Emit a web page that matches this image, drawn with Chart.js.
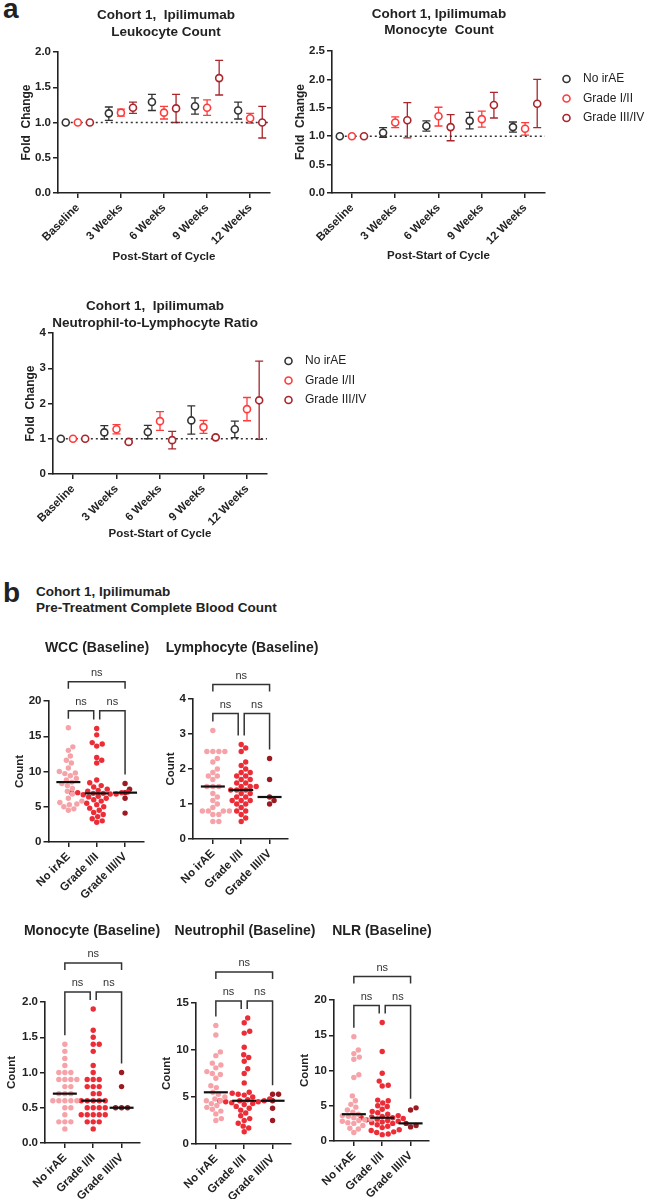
<!DOCTYPE html>
<html>
<head>
<meta charset="utf-8">
<script src="https://cdn.jsdelivr.net/npm/chart.js@4.4.1/dist/chart.umd.min.js"></script>
<style>
  body { margin: 0; background: #fff; width: 645px; height: 1199px; position: relative; overflow: hidden;
         font-family: "Liberation Sans", Arial, Helvetica, sans-serif; color: #222; }
  canvas { position: absolute; }
  .lbl { position: absolute; font-weight: bold; line-height: 1; white-space: nowrap; }
</style>
</head>
<body>
<div class="lbl" style="left:3px;top:-5px;font-size:28px">a</div>
<div class="lbl" style="left:3px;top:579px;font-size:28px">b</div>
<div class="lbl" style="left:36px;top:584px;font-size:13.5px;line-height:16px">Cohort 1, Ipilimumab<br>Pre-Treatment Complete Blood Count</div>

<canvas id="leuk"></canvas>
<canvas id="mono"></canvas>
<canvas id="nlr"></canvas>
<canvas id="wcc"></canvas>
<canvas id="lym"></canvas>
<canvas id="monBl"></canvas>
<canvas id="neuBl"></canvas>
<canvas id="nlrBl"></canvas>

<script>
// ---- panel a: fold change over time ----
const weeks = ['Baseline', '3 Weeks', '6 Weeks', '9 Weeks', '12 Weeks'];
const grades = ['No irAE', 'Grade I/II', 'Grade III/IV'];
const foldRef = 1;

// one row per grade: mean, lower and upper end of error bar
const leukMean = [[1, 1.13, 1.29, 1.23, 1.17], [1, 1.14, 1.14, 1.21, 1.06], [1, 1.21, 1.20, 1.63, 1.00]];
const leukLow  = [[1, 1.03, 1.17, 1.12, 1.05], [1, 1.09, 1.05, 1.10, 0.99], [1, 1.13, 1.00, 1.39, 0.78]];
const leukHigh = [[1, 1.22, 1.40, 1.35, 1.29], [1, 1.19, 1.23, 1.32, 1.13], [1, 1.29, 1.40, 1.88, 1.23]];

const monoMean = [[1, 1.06, 1.18, 1.27, 1.16], [1, 1.24, 1.35, 1.30, 1.13], [1, 1.28, 1.16, 1.55, 1.57]];
const monoLow  = [[1, 0.98, 1.09, 1.13, 1.07], [1, 1.15, 1.18, 1.16, 1.02], [1, 0.97, 0.92, 1.32, 1.15]];
const monoHigh = [[1, 1.15, 1.27, 1.42, 1.25], [1, 1.34, 1.51, 1.44, 1.24], [1, 1.59, 1.38, 1.77, 2.00]];

const nlrMean = [[1, 1.18, 1.19, 1.52, 1.27], [1, 1.27, 1.50, 1.33, 1.84], [1, 0.91, 0.96, 1.04, 2.09]];
const nlrLow  = [[1, 0.99, 1.00, 1.13, 1.03], [1, 1.14, 1.24, 1.15, 1.51], [1, 0.89, 0.71, 1.01, 0.98]];
const nlrHigh = [[1, 1.37, 1.38, 1.93, 1.50], [1, 1.40, 1.77, 1.52, 2.17], [1, 0.93, 1.21, 1.07, 3.20]];

// ---- panel b: baseline counts per patient ----
const wccNo  = [16.2, 13.5, 13.0, 12.2, 11.6, 11.2, 10.5, 10.0, 9.8, 9.7, 9.4, 9.0, 8.8, 8.5, 8.3, 8.0, 7.6, 7.2, 6.8, 6.2, 5.8, 5.6, 5.4, 5.3, 5.0, 4.7, 4.5];
const wccG12 = [16.1, 15.2, 14.1, 13.9, 13.6, 12.0, 11.6, 11.2, 8.8, 8.4, 8.0, 7.8, 7.5, 7.3, 7.2, 7.1, 7.0, 7.0, 7.0, 6.9, 6.9, 6.8, 6.8, 6.7, 6.5, 6.4, 6.2, 6.0, 5.8, 5.5, 5.3, 5.0, 4.8, 4.5, 4.2, 3.9, 3.6, 3.3, 3.0, 2.8];
const wccG34 = [8.3, 7.5, 7.0, 6.2, 4.1];

const lymNo  = [3.1, 2.5, 2.5, 2.5, 2.5, 2.3, 2.2, 2.0, 1.9, 1.8, 1.8, 1.7, 1.5, 1.5, 1.5, 1.3, 1.2, 1.1, 1.0, 0.9, 0.8, 0.8, 0.8, 0.8, 0.7, 0.7, 0.5, 0.5];
const lymG12 = [2.7, 2.6, 2.5, 2.2, 2.1, 2.0, 1.9, 1.9, 1.8, 1.8, 1.7, 1.7, 1.6, 1.6, 1.5, 1.5, 1.5, 1.4, 1.4, 1.4, 1.3, 1.3, 1.2, 1.2, 1.1, 1.1, 1.1, 1.0, 1.0, 0.9, 0.8, 0.8, 0.7, 0.6, 0.5];
const lymG34 = [2.3, 1.7, 1.2, 1.1, 1.0];

const monNo  = [1.4, 1.3, 1.2, 1.1, 1.0, 1.0, 1.0, 0.9, 0.9, 0.9, 0.9, 0.8, 0.8, 0.7, 0.7, 0.7, 0.6, 0.6, 0.6, 0.6, 0.6, 0.5, 0.5, 0.4, 0.3, 0.3, 0.3, 0.2];
const monG12 = [1.9, 1.6, 1.5, 1.4, 1.4, 1.3, 1.1, 1.0, 0.9, 0.9, 0.9, 0.8, 0.8, 0.8, 0.7, 0.7, 0.6, 0.6, 0.6, 0.6, 0.6, 0.5, 0.5, 0.5, 0.5, 0.4, 0.4, 0.4, 0.4, 0.4, 0.3, 0.3, 0.3, 0.2];
const monG34 = [1.0, 0.8, 0.5, 0.5, 0.5];

const neuNo  = [12.6, 11.6, 9.8, 9.4, 8.6, 8.4, 8.1, 7.7, 7.5, 7.4, 7.0, 6.2, 6.0, 5.5, 5.3, 5.0, 4.8, 4.6, 4.6, 4.3, 4.1, 3.9, 3.7, 3.5, 3.2, 2.7, 2.5];
const neuG12 = [13.4, 12.9, 12.0, 11.8, 10.3, 9.5, 9.2, 8.8, 8.0, 7.5, 6.5, 5.5, 5.4, 5.3, 5.2, 5.0, 4.8, 4.7, 4.6, 4.6, 4.6, 4.5, 4.5, 4.4, 4.3, 4.2, 4.0, 3.8, 3.6, 3.3, 3.0, 2.7, 2.5, 2.2, 1.9, 1.7, 1.3];
const neuG34 = [5.3, 5.3, 4.6, 3.8, 2.5];

const nlrBlNo  = [14.8, 12.9, 12.4, 11.9, 11.6, 9.4, 9.0, 6.4, 5.7, 5.2, 4.8, 4.4, 4.1, 3.8, 3.6, 3.5, 3.3, 3.1, 3.0, 2.9, 2.8, 2.6, 2.5, 2.2, 1.8, 1.7, 1.2];
const nlrBlG12 = [16.8, 12.7, 9.6, 8.5, 7.9, 7.8, 5.8, 5.7, 5.4, 5.0, 4.9, 4.5, 4.2, 4.0, 3.8, 3.6, 3.5, 3.4, 3.3, 3.3, 3.2, 3.1, 3.0, 2.9, 2.8, 2.7, 2.6, 2.5, 2.3, 2.1, 1.9, 1.6, 1.5, 1.3, 1.2, 1.0, 0.9];
const nlrBlG34 = [4.7, 4.4, 2.5, 2.2, 2.0];

// comparisons drawn as brackets above each dot plot
const sigPairs = [[0, 1], [1, 2], [0, 2]];
const sigLabels = ['ns', 'ns', 'ns'];

// ---- styling ----
const FONT = '"Liberation Sans", Arial, Helvetica, sans-serif';
const ink = '#222';
const lineColors = ['#333333', '#ff3b3b', '#a8262c'];
const dotColors = ['#f5a3a8', '#ec2c36', '#9c1b22'];
const dodge = 0.28;

Chart.defaults.font.family = FONT;
Chart.defaults.color = ink;
Chart.defaults.animation = false;
Chart.defaults.plugins.legend.display = false;
Chart.defaults.plugins.tooltip.enabled = false;

function place(cv, c) {
  cv.width = c.w; cv.height = c.h;
  cv.style.left = c.left + 'px'; cv.style.top = c.top + 'px';
}

// work out paddings so that the plot area lands where it should on the page
function frame(c, area, yTitleX, yTitleSize) {
  const half = yTitleSize * 0.6;
  return {
    padding: { left: yTitleX - half - c.left, top: area.t - c.top, right: c.left + c.w - area.r, bottom: 0 },
    yWidth: area.l - (yTitleX - half),
    xHeight: c.top + c.h - area.b
  };
}

function valueAxis(max, step, dec, title, titleSize, width) {
  return {
    type: 'linear', min: 0, max,
    ticks: { stepSize: step, padding: 2, color: ink, font: { size: 11.5, weight: 'bold' }, callback: v => v.toFixed(dec) },
    grid: { drawOnChartArea: false, tickLength: 5, color: ink, lineWidth: 1.5 },
    border: { color: ink, width: 1.6 },
    title: { display: true, text: title, color: ink, padding: 0, font: { size: titleSize, weight: 'bold' } },
    afterFit: s => { s.width = width; s.paddingTop = 0; s.paddingBottom = 0; }
  };
}

function groupAxis(labels, min, max, height, title) {
  return {
    type: 'linear', min, max,
    afterBuildTicks: s => { s.ticks = labels.map((_, i) => ({ value: i })); },
    ticks: { autoSkip: false, minRotation: 45, maxRotation: 45, padding: 3, color: ink,
             font: { size: 11.5, weight: 'bold' }, callback: (v, i) => labels[i] },
    grid: { drawOnChartArea: false, tickLength: 5, color: ink, lineWidth: 1.5 },
    border: { color: ink, width: 1.6 },
    title: title ? { display: true, text: title, color: ink, padding: 0, font: { size: 11.5, weight: 'bold' } } : { display: false },
    afterFit: s => { s.height = height; s.paddingLeft = 0; s.paddingRight = 0; }
  };
}

function heading(lines, cx, cys, size, c) {
  return {
    id: 'heading',
    afterDraw(chart) {
      const ctx = chart.ctx;
      ctx.save();
      ctx.font = 'bold ' + size + 'px ' + FONT;
      ctx.fillStyle = ink; ctx.textAlign = 'center'; ctx.textBaseline = 'middle';
      lines.forEach((t, i) => ctx.fillText(t, cx - c.left, cys[i] - c.top));
      ctx.restore();
    }
  };
}

function errorBars(low, high) {
  return {
    id: 'errorBars',
    beforeDatasetsDraw(chart) {
      const { ctx, scales: { x, y } } = chart;
      ctx.save();
      ctx.lineWidth = 1.3;
      low.forEach((row, g) => {
        ctx.strokeStyle = lineColors[g];
        row.forEach((lo, i) => {
          const hi = high[g][i];
          if (hi - lo < 1e-9) return;
          const px = x.getPixelForValue(i + (g - 1) * dodge);
          const a = y.getPixelForValue(lo), b = y.getPixelForValue(hi);
          ctx.beginPath();
          ctx.moveTo(px, a); ctx.lineTo(px, b);
          ctx.moveTo(px - 4, a); ctx.lineTo(px + 4, a);
          ctx.moveTo(px - 4, b); ctx.lineTo(px + 4, b);
          ctx.stroke();
        });
      });
      ctx.restore();
    }
  };
}

const sideLegend = {
  id: 'sideLegend',
  afterDraw(chart) {
    const { ctx, chartArea: a } = chart;
    ctx.save();
    ctx.font = '12px ' + FONT;
    ctx.textBaseline = 'middle';
    grades.forEach((g, i) => {
      const y = a.top + 28 + 19.5 * i;
      ctx.beginPath();
      ctx.arc(a.right + 21.5, y, 3.5, 0, Math.PI * 2);
      ctx.fillStyle = '#fff'; ctx.fill();
      ctx.lineWidth = 1.6; ctx.strokeStyle = lineColors[i]; ctx.stroke();
      ctx.fillStyle = ink;
      ctx.fillText(g, a.right + 38, y);
    });
    ctx.restore();
  }
};

function foldChart(id, c, area, yTitleX, titles, titleX, titleYs, mean, low, high, yMax, dec, legend) {
  const f = frame(c, area, yTitleX, 12);
  const cv = document.getElementById(id);
  place(cv, c);
  const datasets = grades.map((g, gi) => ({
    type: 'scatter', label: g,
    data: mean[gi].map((v, i) => ({ x: i + (gi - 1) * dodge, y: v })),
    pointRadius: 3.5, borderWidth: 1.6, backgroundColor: '#fff', borderColor: lineColors[gi]
  }));
  datasets.push({
    type: 'line', label: 'ref',
    data: [{ x: -dodge, y: foldRef }, { x: 4.46, y: foldRef }],
    borderColor: '#333', borderWidth: 1.5, borderDash: [2, 3], pointRadius: 0
  });
  const plugins = [errorBars(low, high), heading(titles, titleX, titleYs, 13.5, c)];
  if (legend) plugins.push(sideLegend);
  return new Chart(cv, {
    type: 'scatter',
    data: { datasets },
    options: {
      responsive: false,
      layout: { padding: f.padding },
      scales: {
        x: groupAxis(weeks, -0.46, 4.46, f.xHeight, 'Post-Start of Cycle'),
        y: valueAxis(yMax, yMax > 3 ? 1 : 0.5, dec, 'Fold  Change', 12, f.yWidth)
      }
    },
    plugins
  });
}

function median(a) {
  const s = a.slice().sort((p, q) => p - q), m = s.length >> 1;
  return s.length % 2 ? s[m] : (s[m - 1] + s[m]) / 2;
}

function medianLines(groups) {
  return {
    id: 'medianLines',
    afterDatasetsDraw(chart) {
      const { ctx, scales: { x, y } } = chart;
      ctx.save();
      ctx.strokeStyle = '#111'; ctx.lineWidth = 2.2;
      groups.forEach((vals, g) => {
        const px = x.getPixelForValue(g), py = y.getPixelForValue(median(vals));
        ctx.beginPath(); ctx.moveTo(px - 12, py); ctx.lineTo(px + 12, py); ctx.stroke();
      });
      ctx.restore();
    }
  };
}

function brackets(groups) {
  return {
    id: 'brackets',
    afterDraw(chart) {
      const { ctx, scales: { x, y } } = chart;
      const tops = groups.map(v => y.getPixelForValue(Math.max(...v)));
      const low = Math.min(...tops) - 17, high = low - 29;
      ctx.save();
      ctx.strokeStyle = '#333'; ctx.lineWidth = 1.5; ctx.fillStyle = '#333';
      ctx.font = '11px ' + FONT; ctx.textAlign = 'center'; ctx.textBaseline = 'alphabetic';
      sigPairs.forEach(([a, b], k) => {
        const adj = b - a === 1;
        const yy = adj ? low : high;
        let xa = x.getPixelForValue(a), xb = x.getPixelForValue(b);
        if (adj) { if (a === 1) xa += 3; if (b === 1) xb -= 3; }
        const ea = adj ? Math.max(yy + 7, tops[a] - 9) : yy + 7;
        const eb = adj ? Math.max(yy + 7, tops[b] - 9) : yy + 7;
        ctx.beginPath();
        ctx.moveTo(xa, ea); ctx.lineTo(xa, yy); ctx.lineTo(xb, yy); ctx.lineTo(xb, eb);
        ctx.stroke();
        ctx.fillText(sigLabels[k], (xa + xb) / 2, yy - 6);
      });
      ctx.restore();
    }
  };
}

// spread equal values sideways so the dots do not overlap
function swarm(chart, groups) {
  const xs = chart.scales.x, ys = chart.scales.y;
  const unit = xs.getPixelForValue(1) - xs.getPixelForValue(0);
  const d = 5.6;
  groups.forEach((vals, g) => {
    const placed = [];
    chart.data.datasets[g].data = vals.slice().sort((p, q) => p - q).map(v => {
      const py = ys.getPixelForValue(v);
      let off = 0;
      for (let k = 0; k < 200; k++) {
        const cand = (k % 2 ? 1 : -1) * Math.ceil(k / 2) * 0.5;
        if (placed.every(p => Math.hypot(p.x - cand, p.y - py) >= d)) { off = cand; break; }
      }
      placed.push({ x: off, y: py });
      return { x: g + off / unit, y: v };
    });
  });
  chart.update('none');
}

function dotChart(id, c, area, yTitleX, title, titleX, titleY, groups, yMax, step, dec) {
  const f = frame(c, area, yTitleX, 11.5);
  const cv = document.getElementById(id);
  place(cv, c);
  const chart = new Chart(cv, {
    type: 'scatter',
    data: {
      datasets: groups.map((vals, g) => ({
        label: grades[g],
        data: vals.map(v => ({ x: g, y: v })),
        pointRadius: 2.7, borderWidth: 0, backgroundColor: dotColors[g], borderColor: dotColors[g]
      }))
    },
    options: {
      responsive: false,
      layout: { padding: f.padding },
      scales: {
        x: groupAxis(grades, -0.7, 2.65, f.xHeight, null),
        y: valueAxis(yMax, step, dec, 'Count', 11.5, f.yWidth)
      }
    },
    plugins: [medianLines(groups), brackets(groups), heading([title], titleX, [titleY], 14, c)]
  });
  swarm(chart, groups);
  return chart;
}

// panel a
foldChart('leuk', { left: 0, top: 0, w: 285, h: 264 }, { l: 58, r: 270, t: 52, b: 193 }, 27,
  ['Cohort 1,  Ipilimumab', 'Leukocyte Count'], 166, [15, 32], leukMean, leukLow, leukHigh, 2, 1, false);
foldChart('mono', { left: 285, top: 0, w: 360, h: 263 }, { l: 332, r: 545, t: 51, b: 193 }, 301,
  ['Cohort 1, Ipilimumab', 'Monocyte  Count'], 439, [14.5, 30], monoMean, monoLow, monoHigh, 2.5, 1, true);
foldChart('nlr', { left: 0, top: 280, w: 420, h: 261 }, { l: 53, r: 267, t: 333, b: 474 }, 31,
  ['Cohort 1,  Ipilimumab', 'Neutrophil-to-Lymphocyte Ratio'], 155, [306, 323], nlrMean, nlrLow, nlrHigh, 4, 0, true);

// panel b
dotChart('wcc', { left: 0, top: 630, w: 150, h: 270 }, { l: 48.5, r: 143.5, t: 701, b: 842 }, 20,
  'WCC (Baseline)', 97, 648, [wccNo, wccG12, wccG34], 20, 5, 0);
dotChart('lym', { left: 150, top: 630, w: 185, h: 270 }, { l: 193, r: 288, t: 699, b: 839 }, 171,
  'Lymphocyte (Baseline)', 242, 648, [lymNo, lymG12, lymG34], 4, 1, 0);
dotChart('monBl', { left: 0, top: 910, w: 165, h: 289 }, { l: 45, r: 140, t: 1002, b: 1143 }, 12,
  'Monocyte (Baseline)', 92, 931, [monNo, monG12, monG34], 2, 0.5, 1);
dotChart('neuBl', { left: 155, top: 910, w: 175, h: 289 }, { l: 196, r: 291, t: 1003, b: 1144 }, 167,
  'Neutrophil (Baseline)', 245, 931, [neuNo, neuG12, neuG34], 15, 5, 0);
dotChart('nlrBl', { left: 295, top: 910, w: 150, h: 289 }, { l: 334, r: 429, t: 1000, b: 1141 }, 305,
  'NLR (Baseline)', 382, 931, [nlrBlNo, nlrBlG12, nlrBlG34], 20, 5, 0);
</script>
</body>
</html>
